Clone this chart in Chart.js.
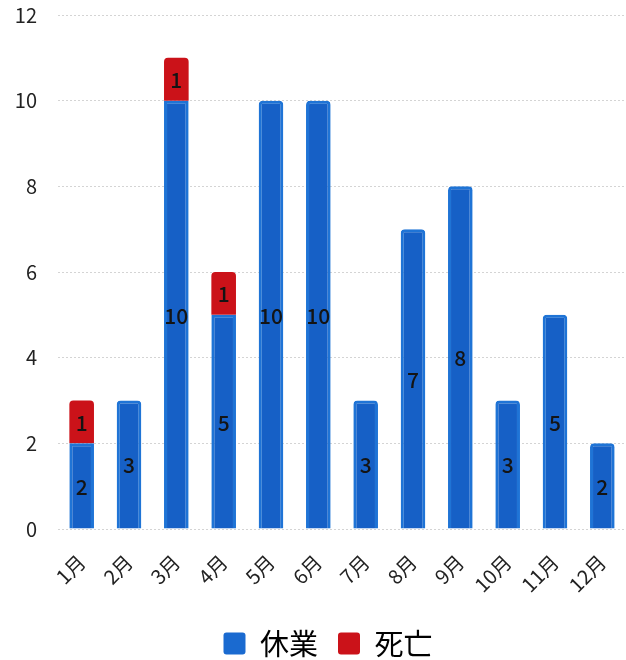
<!DOCTYPE html>
<html><head><meta charset="utf-8">
<script src="https://cdn.jsdelivr.net/npm/chart.js@4"></script>
<style>html,body{margin:0;padding:0;background:#fff;}#wrap{width:626px;height:660px;}</style>
</head><body><div id="wrap"><canvas id="c" width="626" height="660"></canvas></div>
<script>
const categories = ['1月','2月','3月','4月','5月','6月','7月','8月','9月','10月','11月','12月'];
const kyugyo = [2,3,10,5,10,10,3,7,8,3,5,2];
const shibou = [1,0,1,1,0,0,0,0,0,0,0,0];
const seriesNames = ['休業','死亡'];
const yTicks = [0,2,4,6,8,10,12];

const FONT = "'Noto Sans CJK JP', 'Noto Sans', sans-serif";

const labelPlugin = {
  id: 'segLabels',
  afterLayout(chart) {
    if (chart.legend) { chart.legend.left += 11; chart.legend.right += 11; }
  },
  afterDatasetsDraw(chart) {
    const ctx = chart.ctx;
    ctx.save();
    ctx.font = "500 21px " + FONT;
    ctx.fillStyle = '#141414';
    ctx.textAlign = 'center';
    ctx.textBaseline = 'middle';
    chart.data.datasets.forEach((ds, di) => {
      const meta = chart.getDatasetMeta(di);
      meta.data.forEach((bar, i) => {
        const v = ds.data[i];
        if (!v) return;
        const p = bar.getProps(['x','y','base'], true);
        ctx.fillText(String(v), p.x, (p.y + p.base) / 2 + 1);
      });
    });
    ctx.restore();
  }
};

new Chart(document.getElementById('c'), {
  type: 'bar',
  data: {
    labels: categories,
    datasets: [
      {
        label: seriesNames[0],
        data: kyugyo,
        backgroundColor: '#1660C6',
        borderColor: '#1F74D6',
        borderWidth: 3,
        borderSkipped: 'start',
        borderRadius: (c) => shibou[c.dataIndex] ? 0 : {topLeft:4, topRight:4, bottomLeft:0, bottomRight:0},
        barPercentage: 0.52,
        categoryPercentage: 1.0
      },
      {
        label: seriesNames[1],
        data: shibou,
        backgroundColor: '#CB1219',
        borderWidth: 0,
        borderSkipped: 'start',
        borderRadius: {topLeft:4, topRight:4, bottomLeft:0, bottomRight:0},
        barPercentage: 0.52,
        categoryPercentage: 1.0
      }
    ]
  },
  options: {
    responsive: false,
    animation: false,
    layout: { padding: { top: 15, right: 0, left: 8, bottom: -8 } },
    plugins: {
      legend: {
        position: 'bottom',
        labels: {
          font: { family: FONT, size: 29 },
          color: '#111',
          boxWidth: 22,
          boxHeight: 22,
          padding: 20,
          generateLabels(chart) {
            return chart.data.datasets.map((d, i) => ({
              text: d.label, fillStyle: i === 0 ? '#1A6AD0' : d.backgroundColor, strokeStyle: 'transparent',
              lineWidth: 0, datasetIndex: i, hidden: false, borderRadius: 3
            }));
          }
        }
      },
      tooltip: { enabled: false }
    },
    scales: {
      x: {
        stacked: true,
        grid: { display: false, drawTicks: false },
        border: { display: false },
        afterFit(axis) { axis.paddingLeft = 0; axis.paddingRight = 0; axis.height = 80; },
        ticks: {
          font: { family: FONT, size: 20 },
          color: '#222',
          minRotation: 45,
          maxRotation: 45,
          padding: 21
        }
      },
      y: {
        stacked: true,
        min: 0, max: 12,
        afterBuildTicks(axis) { axis.ticks = yTicks.map(v => ({ value: v })); },
        afterFit(axis) { axis.width = 50; axis.paddingTop = 0; axis.paddingBottom = 0; },
        grid: { color: '#d4d4d4', drawTicks: false, lineWidth: 1 },
        border: { display: false, dash: [2,2] },
        ticks: {
          font: { family: FONT, size: 20 },
          color: '#222',
          padding: 21
        }
      }
    }
  },
  plugins: [labelPlugin]
});
</script></body></html>
